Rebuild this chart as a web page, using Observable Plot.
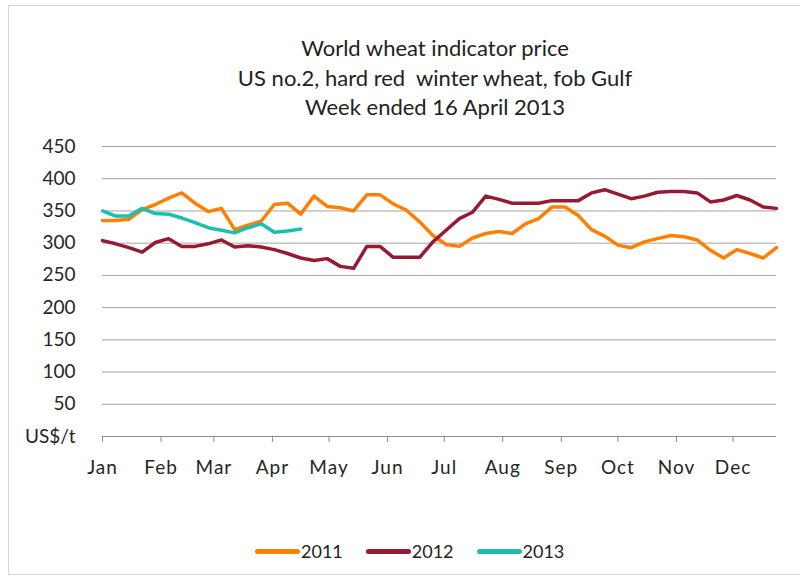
<!DOCTYPE html>
<html>
<head>
<meta charset="utf-8">
<script src="https://cdn.jsdelivr.net/npm/d3@7"></script>
<script src="https://cdn.jsdelivr.net/npm/@observablehq/plot@0.6"></script>
<style>
  html, body { margin: 0; padding: 0; background: #fff; overflow: hidden; }
  #wrap { position: relative; width: 800px; height: 580px; font-family: Lato, "Open Sans", sans-serif; color: #222; }
  #frame { position: absolute; left: 8px; top: 5px; width: 820px; height: 570px; border: 1px solid #d4d4d4; box-sizing: border-box; }
  #title { position: absolute; left: 0; width: 870px; top: 33px; text-align: center; font-size: 22px; line-height: 29.5px; }
  #chart { position: absolute; left: 0; top: 122px; }
  #legend { position: absolute; left: 255px; top: 541px; height: 20px; display: flex; align-items: center; font-size: 18px; }
  .sw { display: inline-block; width: 45px; height: 5px; border-radius: 3px; margin-right: 1px; }
  .item { display: flex; align-items: center; margin-right: 23px; }
  #chart svg g[aria-label="x-axis tick label"] text { letter-spacing: 1px; }
</style>
</head>
<body>
<div id="wrap">
  <div id="frame"></div>
  <div id="title">World wheat indicator price<br>US no.2, hard red&nbsp; winter wheat, fob Gulf<br>Week ended 16 April 2013</div>
  <div id="chart"></div>
  <div id="legend"></div>
</div>
<script>
const months = ["Jan","Feb","Mar","Apr","May","Jun","Jul","Aug","Sep","Oct","Nov","Dec"];
const yTicks = [0, 50, 100, 150, 200, 250, 300, 350, 400, 450];
const seriesNames = ["2011", "2012", "2013"];
const seriesColors = ["#ff8000", "#951a32", "#1cbfae"];

// weekly prices (US$/t), week 0 = first week of January
const y2011 = [335,335,337,352,360,370,378,362,349,354,321,328,334,360,362,345,373,357,355,350,375,375,361,
               351,333,312,298,295,308,315,318,315,330,338,356,356,343,321,311,297,293,302,307,312,310,305,289,277,290,284,277,293];
const y2012 = [304,299,293,286,301,307,295,295,299,305,294,296,294,290,284,277,273,276,264,261,295,295,278,
               278,278,302,320,338,348,373,368,362,362,362,366,366,366,378,383,376,369,373,379,380,380,378,364,367,374,367,356,354];
const y2013 = [350,342,342,354,346,345,339,332,324,320,316,324,330,317,319,322];

const weekDate = i => new Date(Date.UTC(2001, 0, 1 + 7 * i));
const rows = [];
[[seriesNames[0], y2011], [seriesNames[1], y2012], [seriesNames[2], y2013]].forEach(([name, vals]) => {
  vals.forEach((v, i) => rows.push({series: name, date: weekDate(i), value: v}));
});
const monthDates = months.map((m, i) => new Date(Date.UTC(2001, i, 1)));

const chart = Plot.plot({
  width: 800,
  height: 360,
  marginLeft: 102,
  marginRight: 24,
  marginTop: 24,
  marginBottom: 46,
  style: {fontFamily: "Lato, 'Open Sans', sans-serif", fontSize: "19px", color: "#262626", background: "transparent"},
  x: {type: "utc", domain: [weekDate(0), weekDate(51)]},
  y: {domain: [0, 450]},
  color: {domain: seriesNames, range: seriesColors},
  marks: [
    Plot.gridY(yTicks.filter(d => d > 0), {stroke: "#a3a3a3", strokeOpacity: 1, strokeWidth: 1}),
    Plot.ruleY([0], {stroke: "#8c8c8c", strokeWidth: 1}),
    Plot.axisY(yTicks, {tickSize: 0, tickPadding: 27, label: null, tickFormat: d => d === 0 ? "US$/t" : String(d), fontSize: 19}),
    Plot.axisX(monthDates, {tickSize: 6, tickPadding: 18, label: null, stroke: "#8c8c8c", tickFormat: d => months[d.getUTCMonth()], fontSize: 19}),
    Plot.line(rows, {x: "date", y: "value", z: "series", stroke: "series", strokeWidth: 3.5, strokeLinejoin: "round", strokeLinecap: "round"})
  ]
});
document.getElementById("chart").appendChild(chart);

const legend = document.getElementById("legend");
seriesNames.forEach((n, i) => {
  const item = document.createElement("div");
  item.className = "item";
  item.innerHTML = `<span class="sw" style="background:${seriesColors[i]}"></span><span>${n}</span>`;
  legend.appendChild(item);
});
</script>
</body>
</html>
